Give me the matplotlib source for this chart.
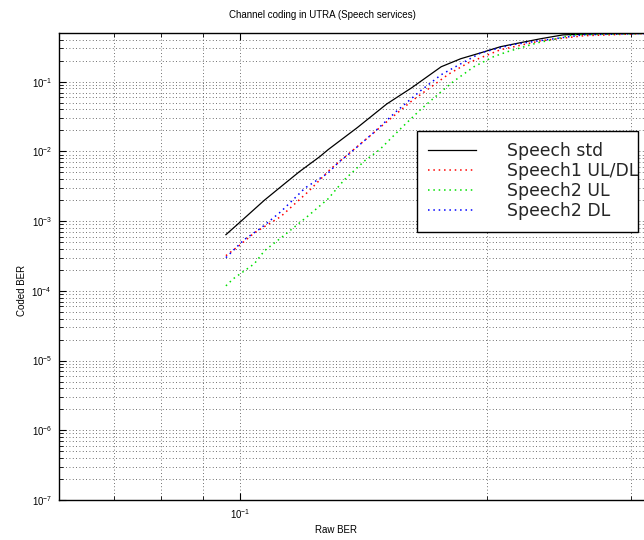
import numpy as np
import matplotlib
matplotlib.use("Agg")
import matplotlib.pyplot as plt
import matplotlib.ticker as ticker

plt.rcParams["font.family"] = ["Liberation Sans", "DejaVu Sans"]
plt.rcParams["mathtext.fontset"] = "custom"
plt.rcParams["mathtext.rm"] = "Liberation Sans"

# --- Data ---

std_x = [0.096, 0.100, 0.107, 0.112, 0.118, 0.125, 0.128, 0.139, 0.151, 0.162,
         0.176, 0.186, 0.197, 0.208, 0.220, 0.233, 0.248, 0.276, 0.312, 0.40, 0.50]
std_y = [6.4e-4, 9.8e-4, 2.0e-3, 3.1e-3, 5.1e-3, 8.4e-3, 1.06e-2, 2.2e-2, 4.8e-2, 8.2e-2,
         0.164, 0.214, 0.261, 0.318, 0.363, 0.414, 0.470, 0.490, 0.497, 0.499, 0.500]

s1_x = [0.096, 0.100, 0.104, 0.112, 0.121, 0.129, 0.137, 0.149, 0.162, 0.180,
        0.190, 0.208, 0.233, 0.263, 0.31, 0.40, 0.50]
s1_y = [3.2e-4, 4.6e-4, 6.8e-4, 1.16e-3, 2.64e-3, 5.65e-3, 1.02e-2, 2.34e-2, 5.3e-2, 0.130,
        0.187, 0.288, 0.387, 0.457, 0.490, 0.499, 0.500]

s2ul_x = [0.096, 0.098, 0.104, 0.107, 0.113, 0.121, 0.128, 0.134, 0.142, 0.148,
          0.157, 0.166, 0.176, 0.182, 0.193, 0.204, 0.212, 0.231, 0.241, 0.255,
          0.31, 0.40, 0.50]
s2ul_y = [1.18e-4, 1.49e-4, 2.45e-4, 3.76e-4, 6.2e-4, 1.19e-3, 2.09e-3, 3.93e-3, 7.4e-3, 1.06e-2,
          2.12e-2, 3.97e-2, 7.2e-2, 0.100, 0.164, 0.229, 0.269, 0.363, 0.401, 0.472,
          0.490, 0.499, 0.500]

s2dl_x = [0.096, 0.098, 0.101, 0.106, 0.112, 0.116, 0.120, 0.128, 0.132, 0.135,
          0.145, 0.155, 0.166, 0.176, 0.186, 0.197, 0.215, 0.232, 0.263, 0.31, 0.40, 0.50]
s2dl_y = [3.0e-4, 3.8e-4, 5.4e-4, 8.0e-4, 1.36e-3, 2.03e-3, 3.0e-3, 4.9e-3, 7.1e-3, 8.7e-3,
          1.79e-2, 3.72e-2, 7.4e-2, 0.126, 0.181, 0.261, 0.340, 0.387, 0.472, 0.490, 0.499, 0.500]

# --- Figure ---

fig = plt.figure(figsize=(6.44, 5.40), dpi=100)
# the axes run past the right edge of the picture, as in the reference
ax = fig.add_axes([59 / 644, 40 / 540, 753 / 644, 467 / 540])

ax.plot(std_x, std_y, color="black", linewidth=0.9, label="Speech std")
ax.plot(s1_x, s1_y, color="red", linestyle=(0, (1, 2.5)), linewidth=1.1, label="Speech1 UL/DL")
ax.plot(s2ul_x, s2ul_y, color="#00e000", linestyle=(0, (1, 2.5)), linewidth=1.1, label="Speech2 UL")
ax.plot(s2dl_x, s2dl_y, color="blue", linestyle=(0, (1, 2.5)), linewidth=1.1, label="Speech2 DL")

ax.set_xscale("log")
ax.set_yscale("log")
ax.set_xlim(0.06, 0.5)
ax.set_ylim(1e-7, 0.5)

ax.yaxis.set_major_locator(ticker.LogLocator(base=10, numticks=20))
ax.yaxis.set_minor_locator(ticker.LogLocator(base=10, subs=np.arange(2, 10), numticks=20))
ax.xaxis.set_major_locator(ticker.LogLocator(base=10, numticks=20))
ax.xaxis.set_minor_locator(ticker.LogLocator(base=10, subs=np.arange(2, 10), numticks=20))
ax.xaxis.set_minor_formatter(ticker.NullFormatter())
ax.yaxis.set_minor_formatter(ticker.NullFormatter())

ax.grid(True, which="both", linestyle=(0, (1, 3)), color="0.25", linewidth=0.6)
ax.tick_params(which="both", direction="in", top=True, right=True, labelsize=7, pad=5)
ax.tick_params(which="major", length=5)
ax.tick_params(which="minor", length=3)
for s in ax.spines.values():
    s.set_linewidth(1.0)

fig.text(0.5, 1 - 15 / 540, "Channel coding in UTRA (Speech services)",
         ha="center", va="center", fontsize=7)
fig.text(336 / 644, 1 - 530 / 540, "Raw BER", ha="center", va="center", fontsize=7)
fig.text(22 / 644, 1 - 290 / 540, "Coded BER", ha="center", va="center",
         rotation=90, fontsize=7)

# legend box 417..638 px wide, 131..233 px high; long labels spill past the box
leg = ax.legend(loc="upper left",
                bbox_to_anchor=(417 / 644, 1 - 233 / 540, 221 / 644, 102 / 540),
                bbox_transform=fig.transFigure, mode="expand",
                prop={"family": "DejaVu Sans", "size": 12.4},
                frameon=True, fancybox=False, framealpha=1,
                edgecolor="black", handlelength=2.8, handletextpad=1.75,
                labelspacing=0.12, borderpad=0.65, borderaxespad=0)
leg.get_frame().set_linewidth(1.0)
for t in leg.get_texts():
    t.set_color("0.15")

fig.savefig("out.png", dpi=100)
